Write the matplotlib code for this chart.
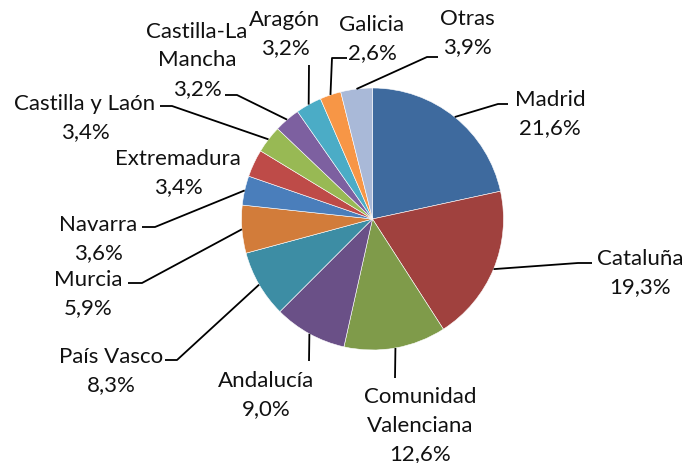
import matplotlib
matplotlib.use("Agg")
import matplotlib.pyplot as plt
import numpy as np

# ---- data ----
regions = ["Madrid", "Cataluña", "Comunidad\nValenciana", "Andalucía", "País Vasco",
           "Murcia", "Navarra", "Extremadura", "Castilla y Laón", "Castilla-La\nMancha",
           "Aragón", "Galicia", "Otras"]
shares = [21.6, 19.3, 12.6, 9.0, 8.3, 5.9, 3.6, 3.4, 3.4, 3.2, 3.2, 2.6, 3.9]
pct_labels = ["21,6%", "19,3%", "12,6%", "9,0%", "8,3%", "5,9%", "3,6%", "3,4%",
              "3,4%", "3,2%", "3,2%", "2,6%", "3,9%"]
colors = ["#3E6A9E", "#A0413E", "#7F9B4A", "#6A5087", "#3D8DA4", "#D27C3A",
          "#4A7EBB", "#BE4B48", "#98B954", "#7D60A0", "#4BACC6", "#F79646", "#A9B9D8"]

# ---- layout (pixel coordinates, y measured from top) ----
W, H = 685, 463
cx, cy, R = 372.5, 219.0, 131.0
# label block: (center x, baseline of first line)
label_pos = [(550, 106), (640, 265), (420, 403), (266, 387), (111, 363),
             (88, 286), (98, 231), (178, 165), (85, 110), (197, 38),
             (285, 26), (372, 31), (467, 25)]
# leader elbow & end points (None = no leader)
leaders = [[(498, 104), (508, 104)],
           [(578, 263), (592, 263)],
           [(395, 378)],
           [(309, 361)],
           [(177, 360), (165, 360)],
           [(142, 283), (128, 283)],
           [(155, 227), (142, 227)],
           None,
           [(172, 106), (160, 106)],
           [(237, 95), (225, 95)],
           [(309, 65)],
           [(332, 58), (347, 58)],
           [(427, 57), (438, 57)]]
line_h = 28.5

fig = plt.figure(figsize=(W / 100, H / 100), dpi=100)
ax = fig.add_axes([0, 0, 1, 1])

wedges, _ = ax.pie(shares, colors=colors, startangle=90, counterclock=False,
                   center=(cx, H - cy), radius=R, frame=True,
                   wedgeprops=dict(edgecolor="white", linewidth=0.4))
ax.set_xlim(0, W)
ax.set_ylim(0, H)
ax.set_aspect("equal")
ax.axis("off")

fp = dict(family=["Lato", "DejaVu Sans"], fontsize=16, color="#111111")
for i, w in enumerate(wedges):
    lines = regions[i].split("\n") + [pct_labels[i]]
    x0, b0 = label_pos[i]
    for k, t in enumerate(lines):
        ax.text(x0, H - (b0 + k * line_h), t, ha="center", va="baseline", **fp)
    if leaders[i] is not None:
        ang = np.deg2rad((w.theta1 + w.theta2) / 2)
        sx = cx + R * np.cos(ang)
        sy = (H - cy) + R * np.sin(ang)
        xs = [sx] + [p[0] for p in leaders[i]]
        ys = [sy] + [H - p[1] for p in leaders[i]]
        ax.plot(xs, ys, color="black", lw=1.3, solid_capstyle="butt")

fig.savefig("out.png", dpi=100)
